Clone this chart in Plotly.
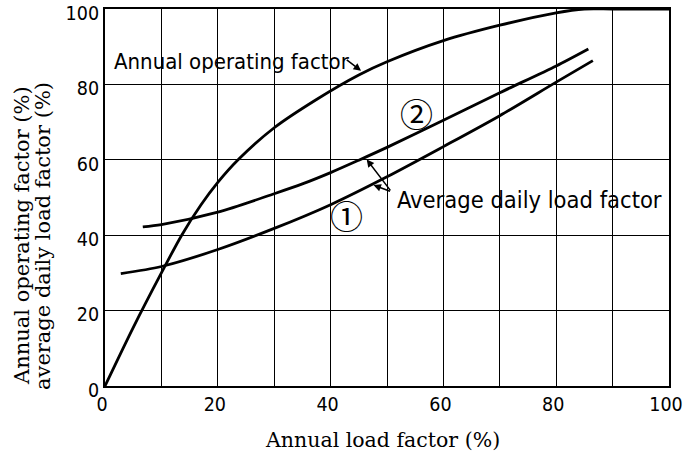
import plotly.graph_objects as go

# Annual operating factor curve
op_x = [0, 5, 10, 13.6, 17, 20, 23.6, 30, 37.5, 45, 50, 60, 70, 80, 85, 90, 100]
op_y = [0, 15.5, 30, 40, 48, 54, 60, 68.5, 76, 82.5, 86, 91.6, 95.7, 99, 100, 100, 100]

# Average daily load factor, curve (2)
c2_x = [6.7, 10, 20, 30, 35, 40, 45, 50, 60, 70, 80, 85.7]
c2_y = [42.2, 42.8, 46.1, 51.0, 53.6, 56.6, 59.9, 63.3, 70.5, 77.8, 84.9, 89.4]

# Average daily load factor, curve (1)
c1_x = [2.8, 10, 20, 30, 40, 50, 60, 70, 80, 86.5]
c1_y = [29.8, 31.7, 36.2, 41.8, 48.1, 55.5, 63.5, 71.7, 80.6, 86.3]

x_ticks = [0, 20, 40, 60, 80, 100]
x_ticktext = ["0", "20", "40", "60", "80", "100"]
y_ticks = [0, 20, 40, 60, 80, 100]
y_ticktext = ["0", "20", "40", "60", "80", "100"]

hand_font = dict(family="DejaVu Sans Condensed, DejaVu Sans, sans-serif", size=22, color="black")
hand_font2 = dict(family="DejaVu Sans Condensed, DejaVu Sans, sans-serif", size=23.5, color="black")
tick_font = dict(family="Liberation Sans Narrow, DejaVu Sans Condensed, Arial Narrow, sans-serif", size=19.5, color="black")
serif_font = dict(family="DejaVu Serif, Liberation Serif, serif", size=20.5, color="black")
serif_font_y = dict(family="DejaVu Serif, Liberation Serif, serif", size=21, color="black")
circ_font = dict(family="Noto Sans CJK JP, DejaVu Sans, sans-serif", size=33, color="black")

fig = go.Figure()
line_style = dict(color="black", width=2.8, shape="spline", smoothing=0.8)
fig.add_trace(go.Scatter(x=op_x, y=op_y, mode="lines", line=line_style, showlegend=False))
fig.add_trace(go.Scatter(x=c2_x, y=c2_y, mode="lines", line=line_style, showlegend=False))
fig.add_trace(go.Scatter(x=c1_x, y=c1_y, mode="lines", line=line_style, showlegend=False))

# plot area geometry in px (for paper-referenced titles)
L, R, T, B = 105, 669, 9, 386
def px_x(px):
    return (px - L) / (R - L)
def px_y(py):
    return (B - py) / (B - T)

ann = []
ann.append(dict(x=1.2, y=86.2, xref="x", yref="y", text="Annual operating factor",
                showarrow=False, xanchor="left", yanchor="middle", font=hand_font))
ann.append(dict(x=45.4, y=83.6, xref="x", yref="y", ax=42.6, ay=86.8, axref="x", ayref="y",
                text="", showarrow=True, arrowhead=2, arrowsize=1, arrowwidth=1.5, arrowcolor="black"))
ann.append(dict(x=51.4, y=49.3, xref="x", yref="y", text="Average daily load factor",
                showarrow=False, xanchor="left", yanchor="middle", font=hand_font2))
ann.append(dict(x=46.4, y=60.1, xref="x", yref="y", ax=50.8, ay=51.5, axref="x", ayref="y",
                text="", showarrow=True, arrowhead=2, arrowsize=1, arrowwidth=1.5, arrowcolor="black"))
ann.append(dict(x=47.6, y=53.3, xref="x", yref="y", ax=50.8, ay=51.5, axref="x", ayref="y",
                text="", showarrow=True, arrowhead=2, arrowsize=1, arrowwidth=1.5, arrowcolor="black"))
ann.append(dict(x=55.2, y=72.3, xref="x", yref="y", text="②", showarrow=False, font=circ_font))
ann.append(dict(x=42.9, y=45.4, xref="x", yref="y", text="①", showarrow=False, font=circ_font))
# axis titles
ann.append(dict(x=px_x(382), y=px_y(440), xref="paper", yref="paper", text="Annual load factor (%)",
                xanchor="center", yanchor="middle", showarrow=False, font=serif_font))
ann.append(dict(x=px_x(22), y=px_y(236), xref="paper", yref="paper", text="Annual operating factor (%)",
                xanchor="center", yanchor="middle", showarrow=False, textangle=-90, font=serif_font_y))
ann.append(dict(x=px_x(43), y=px_y(236), xref="paper", yref="paper", text="average daily load factor (%)",
                xanchor="center", yanchor="middle", showarrow=False, textangle=-90, font=serif_font_y))

fig.update_layout(
    width=684, height=458,
    margin=dict(l=L, r=684 - R, t=T, b=458 - B, autoexpand=False),
    paper_bgcolor="white", plot_bgcolor="white",
    annotations=ann,
    xaxis=dict(range=[-0.0001, 100.0001], tickvals=x_ticks, ticktext=x_ticktext,
               showgrid=True, gridcolor="black", gridwidth=1.4,
               minor=dict(dtick=10, showgrid=True, gridcolor="black", gridwidth=1.4),
               showline=True, linecolor="black", linewidth=2, mirror=True,
               zeroline=False, ticks="", tickfont=tick_font, fixedrange=True,
               ticklabeloverflow="allow", automargin=False, ticklabelshift=-3),
    yaxis=dict(range=[-0.0001, 100.0001], tickvals=y_ticks, ticktext=y_ticktext,
               showgrid=True, gridcolor="black", gridwidth=1.4,
               showline=True, linecolor="black", linewidth=2, mirror=True,
               zeroline=False, ticks="", tickfont=tick_font, fixedrange=True,
               ticklabeloverflow="allow", automargin=False, ticklabelshift=4),
)

fig.write_html("out.html", post_script="document.body.style.margin='0';",
               config={"displayModeBar": False})
